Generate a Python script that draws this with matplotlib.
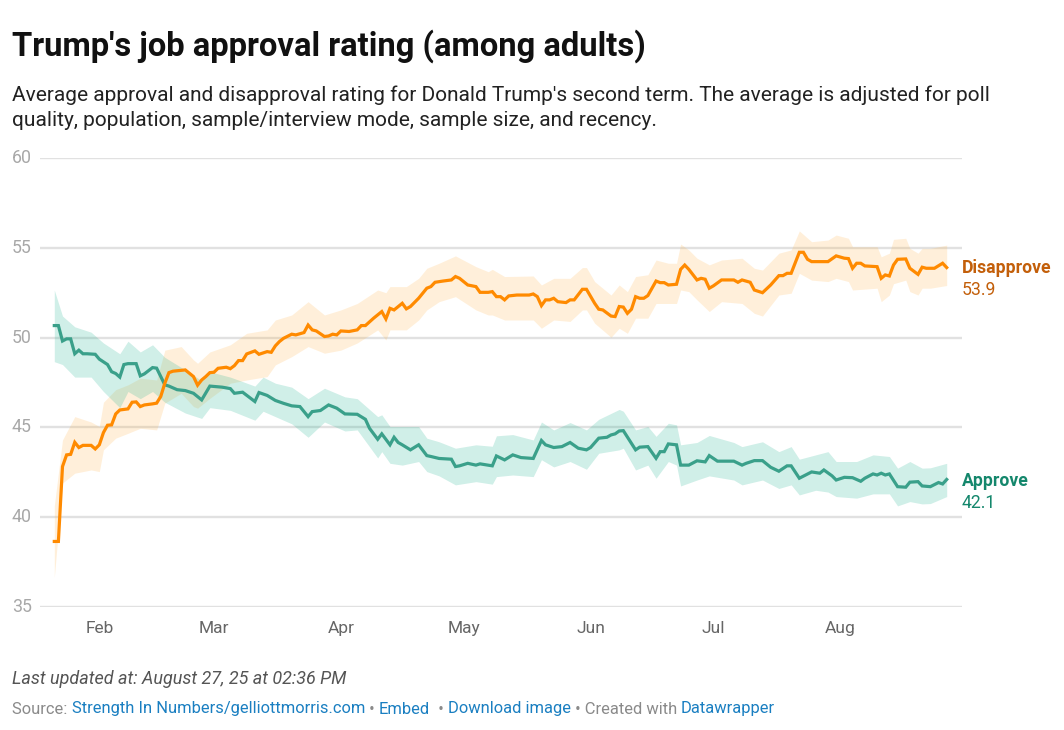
import matplotlib
matplotlib.use("Agg")
import matplotlib.pyplot as plt
import matplotlib.dates as mdates
import numpy as np

plt.rcParams['font.family'] = ['Roboto', 'DejaVu Sans']

# ---------------- data ----------------
approve_dates = [
    "2025-01-21", "2025-01-22", "2025-01-23", "2025-01-24", "2025-01-25", "2025-01-26", "2025-01-27",
    "2025-01-28", "2025-01-29", "2025-01-31", "2025-02-01", "2025-02-03", "2025-02-04", "2025-02-05",
    "2025-02-06", "2025-02-07", "2025-02-08", "2025-02-10", "2025-02-11", "2025-02-12", "2025-02-14",
    "2025-02-15", "2025-02-17", "2025-02-18", "2025-02-20", "2025-02-22", "2025-02-24", "2025-02-26",
    "2025-02-28", "2025-03-03", "2025-03-05", "2025-03-06", "2025-03-08", "2025-03-11", "2025-03-12",
    "2025-03-14", "2025-03-16", "2025-03-18", "2025-03-20", "2025-03-22", "2025-03-24", "2025-03-25",
    "2025-03-27", "2025-03-29", "2025-03-31", "2025-04-02", "2025-04-05", "2025-04-07", "2025-04-08",
    "2025-04-10", "2025-04-11", "2025-04-13", "2025-04-14", "2025-04-15", "2025-04-16", "2025-04-18",
    "2025-04-20", "2025-04-22", "2025-04-23", "2025-04-25", "2025-04-28", "2025-04-29", "2025-04-30",
    "2025-05-02", "2025-05-04", "2025-05-05", "2025-05-07", "2025-05-08", "2025-05-09", "2025-05-11",
    "2025-05-13", "2025-05-15", "2025-05-18", "2025-05-20", "2025-05-21", "2025-05-23", "2025-05-25",
    "2025-05-27", "2025-05-29", "2025-05-31", "2025-06-01", "2025-06-03", "2025-06-05", "2025-06-06",
    "2025-06-07", "2025-06-08", "2025-06-09", "2025-06-12", "2025-06-13", "2025-06-15", "2025-06-17",
    "2025-06-18", "2025-06-19", "2025-06-20", "2025-06-22", "2025-06-23", "2025-06-25", "2025-06-27",
    "2025-06-29", "2025-06-30", "2025-07-02", "2025-07-06", "2025-07-08", "2025-07-09", "2025-07-11",
    "2025-07-13", "2025-07-15", "2025-07-17", "2025-07-19", "2025-07-20", "2025-07-22", "2025-07-25",
    "2025-07-27", "2025-07-28", "2025-07-30", "2025-07-31", "2025-08-02", "2025-08-04", "2025-08-06",
    "2025-08-07", "2025-08-09", "2025-08-10", "2025-08-11", "2025-08-12", "2025-08-13", "2025-08-15",
    "2025-08-17", "2025-08-18", "2025-08-20", "2025-08-21", "2025-08-23", "2025-08-25", "2025-08-26",
    "2025-08-27"]
approve = [
    50.67, 50.67, 49.81, 49.93, 49.93, 49.10, 49.30,
    49.10, 49.10, 49.07, 48.80, 48.50, 48.10, 48.00,
    47.80, 48.50, 48.55, 48.55, 47.87, 47.98, 48.33,
    48.30, 47.37, 47.30, 47.10, 47.05, 46.90, 46.53,
    47.30, 47.24, 47.16, 46.90, 46.96, 46.44, 46.94,
    46.78, 46.50, 46.34, 46.20, 46.16, 45.60, 45.88,
    45.94, 46.25, 46.07, 45.75, 45.73, 45.45, 44.95,
    44.34, 44.64, 44.03, 44.45, 44.16, 44.03, 43.75,
    44.03, 43.43, 43.38, 43.27, 43.23, 42.82, 42.86,
    43.00, 42.90, 42.97, 42.90, 42.86, 43.41, 43.19,
    43.47, 43.32, 43.27, 44.27, 44.03, 43.88, 43.93,
    44.16, 43.84, 43.75, 43.88, 44.40, 44.45, 44.58,
    44.64, 44.80, 44.82, 43.75, 43.90, 43.93, 43.28,
    43.65, 43.65, 44.08, 44.03, 42.90, 42.90, 43.14,
    43.08, 43.43, 43.12, 43.12, 42.90, 43.00, 43.15,
    43.15, 42.78, 42.56, 42.86, 42.86, 42.17, 42.52,
    42.45, 42.63, 42.30, 42.07, 42.22, 42.20, 42.00,
    42.17, 42.41, 42.35, 42.45, 42.35, 42.41, 41.70,
    41.67, 41.95, 41.98, 41.74, 41.70, 41.93, 41.85,
    42.10]

disapprove_dates = [
    "2025-01-21", "2025-01-22", "2025-01-23", "2025-01-24", "2025-01-25", "2025-01-26", "2025-01-27",
    "2025-01-28", "2025-01-30", "2025-01-31", "2025-02-01", "2025-02-02", "2025-02-03", "2025-02-04",
    "2025-02-05", "2025-02-06", "2025-02-08", "2025-02-09", "2025-02-10", "2025-02-11", "2025-02-12",
    "2025-02-14", "2025-02-15", "2025-02-16", "2025-02-17", "2025-02-18", "2025-02-19", "2025-02-22",
    "2025-02-24", "2025-02-25", "2025-02-26", "2025-02-27", "2025-02-28", "2025-03-01", "2025-03-02",
    "2025-03-04", "2025-03-05", "2025-03-06", "2025-03-07", "2025-03-08", "2025-03-09", "2025-03-11",
    "2025-03-12", "2025-03-14", "2025-03-15", "2025-03-16", "2025-03-17", "2025-03-18", "2025-03-20",
    "2025-03-21", "2025-03-23", "2025-03-24", "2025-03-25", "2025-03-26", "2025-03-28", "2025-03-29",
    "2025-03-30", "2025-03-31", "2025-04-01", "2025-04-03", "2025-04-05", "2025-04-06", "2025-04-07",
    "2025-04-09", "2025-04-11", "2025-04-12", "2025-04-13", "2025-04-14", "2025-04-16", "2025-04-17",
    "2025-04-18", "2025-04-20", "2025-04-22", "2025-04-23", "2025-04-24", "2025-04-26", "2025-04-28",
    "2025-04-29", "2025-04-30", "2025-05-02", "2025-05-04", "2025-05-05", "2025-05-07", "2025-05-08",
    "2025-05-09", "2025-05-10", "2025-05-11", "2025-05-12", "2025-05-14", "2025-05-17", "2025-05-18",
    "2025-05-19", "2025-05-20", "2025-05-21", "2025-05-22", "2025-05-23", "2025-05-24", "2025-05-26",
    "2025-05-27", "2025-05-28", "2025-05-30", "2025-05-31", "2025-06-02", "2025-06-03", "2025-06-04",
    "2025-06-06", "2025-06-07", "2025-06-08", "2025-06-09", "2025-06-10", "2025-06-11", "2025-06-12",
    "2025-06-13", "2025-06-14", "2025-06-15", "2025-06-17", "2025-06-18", "2025-06-19", "2025-06-20",
    "2025-06-22", "2025-06-23", "2025-06-24", "2025-06-25", "2025-06-27", "2025-06-28", "2025-06-29",
    "2025-06-30", "2025-07-01", "2025-07-03", "2025-07-06", "2025-07-07", "2025-07-08", "2025-07-10",
    "2025-07-11", "2025-07-13", "2025-07-15", "2025-07-17", "2025-07-18", "2025-07-19", "2025-07-20",
    "2025-07-22", "2025-07-23", "2025-07-24", "2025-07-25", "2025-07-29", "2025-07-31", "2025-08-02",
    "2025-08-03", "2025-08-04", "2025-08-05", "2025-08-06", "2025-08-07", "2025-08-10", "2025-08-11",
    "2025-08-12", "2025-08-13", "2025-08-14", "2025-08-15", "2025-08-17", "2025-08-18", "2025-08-20",
    "2025-08-21", "2025-08-22", "2025-08-24", "2025-08-26", "2025-08-27"]
disapprove = [
    38.65, 38.65, 42.82, 43.47, 43.50, 44.17, 43.88,
    44.00, 44.00, 43.80, 44.03, 44.71, 45.12, 45.14,
    45.75, 45.97, 46.03, 46.40, 46.42, 46.16, 46.25,
    46.31, 46.35, 46.72, 47.46, 48.05, 48.13, 48.20,
    47.83, 47.35, 47.64, 47.83, 48.05, 48.07, 48.29,
    48.35, 48.27, 48.44, 48.72, 48.72, 49.09, 49.26,
    49.07, 49.22, 49.18, 49.54, 49.78, 49.96, 50.19,
    50.15, 50.28, 50.70, 50.43, 50.37, 50.06, 50.09,
    50.19, 50.15, 50.37, 50.34, 50.43, 50.67, 50.67,
    51.08, 51.45, 51.04, 51.63, 51.54, 51.91, 51.60,
    51.73, 52.19, 52.75, 52.84, 53.08, 53.15, 53.21,
    53.40, 53.30, 52.93, 52.84, 52.52, 52.52, 52.56,
    52.28, 52.28, 52.10, 52.32, 52.37, 52.37, 52.43,
    52.28, 51.78, 52.10, 52.10, 52.19, 52.00, 51.95,
    52.10, 52.10, 52.69, 52.69, 51.91, 51.58, 51.54,
    51.20, 51.17, 51.73, 51.70, 51.35, 51.58, 52.28,
    52.19, 52.19, 52.34, 53.15, 53.06, 53.06, 52.93,
    52.97, 53.80, 54.04, 53.80, 53.21, 53.30, 53.25,
    52.75, 52.88, 53.21, 53.21, 53.08, 53.21, 53.08,
    52.65, 52.50, 52.93, 53.45, 53.45, 53.58, 53.58,
    54.75, 54.75, 54.36, 54.23, 54.23, 54.55, 54.42,
    54.40, 53.86, 54.14, 54.14, 53.99, 53.95, 53.30,
    53.49, 53.43, 54.04, 54.36, 54.38, 53.86, 53.52,
    53.92, 53.86, 53.86, 54.14, 53.90]

approve_band_dates = [
    "2025-01-21", "2025-01-23", "2025-01-26", "2025-01-30", "2025-02-02", "2025-02-06", "2025-02-08",
    "2025-02-11", "2025-02-14", "2025-02-17", "2025-02-22", "2025-02-26", "2025-02-28", "2025-03-05",
    "2025-03-11", "2025-03-13", "2025-03-16", "2025-03-20", "2025-03-24", "2025-03-28", "2025-04-02",
    "2025-04-05", "2025-04-10", "2025-04-11", "2025-04-13", "2025-04-16", "2025-04-20", "2025-04-22",
    "2025-04-25", "2025-04-29", "2025-05-04", "2025-05-08", "2025-05-09", "2025-05-13", "2025-05-18",
    "2025-05-20", "2025-05-23", "2025-05-27", "2025-05-31", "2025-06-03", "2025-06-08", "2025-06-09",
    "2025-06-12", "2025-06-15", "2025-06-17", "2025-06-20", "2025-06-22", "2025-06-23", "2025-06-27",
    "2025-06-30", "2025-07-06", "2025-07-08", "2025-07-13", "2025-07-17", "2025-07-20", "2025-07-22",
    "2025-07-26", "2025-07-29", "2025-07-31", "2025-08-05", "2025-08-09", "2025-08-13", "2025-08-15",
    "2025-08-18", "2025-08-21", "2025-08-23", "2025-08-27"]
approve_hi = [
    52.65, 51.20, 50.60, 50.30, 49.70, 49.10, 49.80,
    49.20, 49.60, 48.90, 48.20, 47.60, 48.10, 47.80,
    47.30, 47.80, 47.46, 47.24, 46.60, 47.18, 46.70,
    46.60, 45.60, 45.70, 45.05, 45.05, 45.05, 44.40,
    44.20, 43.84, 44.03, 43.95, 44.53, 44.60, 44.30,
    45.30, 44.86, 45.27, 44.86, 45.45, 46.00, 45.90,
    44.86, 45.05, 44.50, 45.23, 45.14, 44.03, 44.16,
    44.55, 44.16, 43.93, 44.20, 43.65, 43.93, 43.23,
    43.47, 43.65, 43.10, 43.10, 43.47, 43.38, 42.73,
    43.10, 42.73, 42.75, 43.00]
approve_lo = [
    48.66, 48.50, 47.80, 47.80, 47.00, 46.10, 47.00,
    46.60, 47.00, 46.40, 45.80, 45.50, 46.10, 45.95,
    45.40, 45.90, 45.60, 45.20, 44.45, 45.30, 44.80,
    44.86, 43.30, 43.65, 43.00, 42.90, 43.10, 42.54,
    42.30, 41.80, 41.98, 41.84, 42.26, 42.35, 42.26,
    43.20, 42.80, 43.10, 42.67, 43.56, 43.75, 43.84,
    42.63, 42.90, 42.17, 43.10, 42.90, 41.74, 42.07,
    42.30, 42.07, 41.80, 42.07, 41.60, 41.80, 41.24,
    41.50, 41.40, 41.15, 41.06, 41.30, 41.30, 40.63,
    40.87, 40.74, 40.76, 41.15]

disapprove_band_dates = [
    "2025-01-21", "2025-01-23", "2025-01-26", "2025-01-30", "2025-02-01", "2025-02-02", "2025-02-05",
    "2025-02-08", "2025-02-11", "2025-02-15", "2025-02-17", "2025-02-21", "2025-02-24", "2025-02-25",
    "2025-02-28", "2025-03-05", "2025-03-09", "2025-03-14", "2025-03-16", "2025-03-20", "2025-03-24",
    "2025-03-28", "2025-04-01", "2025-04-05", "2025-04-10", "2025-04-12", "2025-04-13", "2025-04-17",
    "2025-04-20", "2025-04-22", "2025-04-25", "2025-04-29", "2025-05-04", "2025-05-07", "2025-05-08",
    "2025-05-11", "2025-05-18", "2025-05-20", "2025-05-23", "2025-05-27", "2025-05-30", "2025-05-31",
    "2025-06-02", "2025-06-06", "2025-06-08", "2025-06-10", "2025-06-12", "2025-06-15", "2025-06-17",
    "2025-06-20", "2025-06-22", "2025-06-23", "2025-06-25", "2025-06-27", "2025-06-30", "2025-07-03",
    "2025-07-08", "2025-07-11", "2025-07-13", "2025-07-17", "2025-07-20", "2025-07-22", "2025-07-25",
    "2025-07-29", "2025-07-31", "2025-08-03", "2025-08-04", "2025-08-10", "2025-08-11", "2025-08-13",
    "2025-08-14", "2025-08-17", "2025-08-18", "2025-08-20", "2025-08-21", "2025-08-23", "2025-08-27"]
disapprove_hi = [
    40.63, 44.30, 45.60, 45.30, 45.05, 46.40, 47.10,
    47.37, 47.74, 47.64, 49.30, 49.50, 48.76, 48.57,
    49.20, 49.60, 50.24, 50.43, 50.98, 51.26, 52.00,
    51.26, 51.54, 51.90, 52.65, 52.50, 52.84, 52.84,
    53.30, 53.86, 54.14, 54.55, 53.95, 53.67, 53.80,
    53.40, 53.43, 52.93, 53.30, 53.30, 53.90, 53.90,
    53.12, 52.37, 52.93, 52.56, 53.40, 53.50, 54.32,
    54.14, 54.14, 55.21, 54.88, 54.42, 54.05, 54.32,
    54.42, 53.86, 53.76, 54.70, 54.88, 55.94, 55.34,
    55.43, 55.71, 55.53, 55.06, 55.06, 54.50, 54.70,
    55.47, 55.53, 54.97, 54.70, 54.97, 54.97, 55.15]
disapprove_lo = [
    36.64, 41.90, 42.45, 42.63, 42.54, 43.75, 44.40,
    44.67, 44.95, 44.86, 46.35, 46.90, 46.16, 46.07,
    46.62, 47.46, 47.64, 47.83, 48.48, 48.94, 49.50,
    49.13, 49.30, 49.70, 50.43, 49.87, 50.43, 50.43,
    50.98, 51.54, 52.00, 52.28, 51.54, 51.26, 51.26,
    50.98, 50.98, 50.52, 50.98, 50.90, 51.54, 51.54,
    50.80, 50.02, 50.52, 50.24, 51.08, 51.08, 51.90,
    51.90, 51.90, 52.65, 52.56, 52.10, 51.45, 52.00,
    51.90, 51.35, 51.20, 52.37, 52.47, 53.58, 53.20,
    53.12, 53.30, 53.12, 52.65, 52.75, 52.00, 52.37,
    53.00, 53.20, 52.56, 52.37, 52.75, 52.75, 52.90]

month_ticks = ["2025-02-01", "2025-03-01", "2025-04-01", "2025-05-01", "2025-06-01", "2025-07-01", "2025-08-01"]
month_labels = ["Feb", "Mar", "Apr", "May", "Jun", "Jul", "Aug"]
y_ticks = [35, 40, 45, 50, 55, 60]

approve_label = "Approve"
disapprove_label = "Disapprove"

# ---------------- styling ----------------
C_APP = "#3aa08a"
C_APP_FILL = (0.08, 0.69, 0.55, 0.20)
C_APP_TXT = "#14876c"
C_DIS = "#ff8a00"
C_DIS_FILL = (1.0, 0.70, 0.28, 0.20)
C_DIS_TXT = "#c35f0a"
C_GRID = "#e1e1e1"
C_LINK = "#1a7fc1"

W, H = 1064, 730
fig = plt.figure(figsize=(W / 100, H / 100), dpi=100)
fig.patch.set_facecolor("white")

ax_l, ax_r, ax_t, ax_b = 40, 962, 158, 607
ax = fig.add_axes([ax_l / W, 1 - ax_b / H, (ax_r - ax_l) / W, (ax_b - ax_t) / H])

def dn(lst):
    return mdates.date2num(np.array(lst, dtype="datetime64[D]"))

ax.fill_between(dn(disapprove_band_dates), disapprove_lo, disapprove_hi,
                color=C_DIS_FILL, linewidth=0, zorder=1)
ax.fill_between(dn(approve_band_dates), approve_lo, approve_hi,
                color=C_APP_FILL, linewidth=0, zorder=1)

for yv in y_ticks:
    ax.axhline(yv, color=C_GRID, lw=1.7, zorder=0.5)

ax.plot(dn(approve_dates), approve, color=C_APP, lw=2.3, zorder=3,
        solid_joinstyle="miter")
ax.plot(dn(disapprove_dates), disapprove, color=C_DIS, lw=2.3, zorder=3,
        solid_joinstyle="miter")

x0 = dn(["2025-01-21"])[0]
x1 = dn(["2025-08-27"])[0]
ppd = (946.7 - 54.3) / (x1 - x0)
ax.set_xlim(x0 - (54.3 - ax_l) / ppd, x1 + (ax_r - 946.7) / ppd)
ax.set_ylim(35, 60)

for s in ax.spines.values():
    s.set_visible(False)
ax.set_yticks([])
ax.set_xticks(dn(month_ticks))
ax.set_xticklabels(month_labels, fontsize=12.5, color="#666666")
ax.tick_params(axis="x", length=0, pad=10)

# y labels
for yv in y_ticks:
    ypx = ax_t + (60 - yv) / 25 * (ax_b - ax_t)
    fig.text(12 / W, 1 - ypx / H, str(yv), fontsize=12.8, color="#a8a8a8",
             ha="left", va="center")

# end labels
fig.text(962 / W, 1 - 268 / H, disapprove_label, fontsize=12.7, fontweight="bold",
         color=C_DIS_TXT, ha="left", va="center")
fig.text(962 / W, 1 - 290 / H, f"{disapprove[-1]:.1f}", fontsize=12.7,
         color=C_DIS_TXT, ha="left", va="center")
fig.text(962 / W, 1 - 481 / H, approve_label, fontsize=12.7, fontweight="bold",
         color=C_APP_TXT, ha="left", va="center")
fig.text(962 / W, 1 - 503 / H, f"{approve[-1]:.1f}", fontsize=12.7,
         color=C_APP_TXT, ha="left", va="center")

# title & subtitle
fig.text(12 / W, 1 - 46 / H, "Trump's job approval rating (among adults)",
         fontsize=23.6, fontweight="bold", color="#111111", ha="left", va="center")
fig.text(12 / W, 1 - 95 / H,
         "Average approval and disapproval rating for Donald Trump's second term. The average is adjusted for poll",
         fontsize=15.0, color="#222222", ha="left", va="center")
fig.text(12 / W, 1 - 120 / H,
         "quality, population, sample/interview mode, sample size, and recency.",
         fontsize=15.0, color="#222222", ha="left", va="center")

# footer
fig.text(12 / W, 1 - 679 / H, "Last updated at: August 27, 25 at 02:36 PM",
         fontsize=13.0, style="italic", color="#555555", ha="left", va="center")

pieces = [("Source: ", "#8a8a8a"),
          ("Strength In Numbers/gelliottmorris.com", C_LINK),
          (" • ", "#8a8a8a"),
          ("Embed", C_LINK),
          ("  • ", "#8a8a8a"),
          ("Download image", C_LINK),
          (" • Created with ", "#8a8a8a"),
          ("Datawrapper", C_LINK)]
fig.canvas.draw()
renderer = fig.canvas.get_renderer()
xpos = 12.0
for txt, col in pieces:
    t = fig.text(xpos / W, 1 - 709 / H, txt, fontsize=11.9, color=col,
                 ha="left", va="center")
    bb = t.get_window_extent(renderer=renderer)
    xpos += bb.width

fig.savefig("out.png", dpi=100, facecolor="white")
